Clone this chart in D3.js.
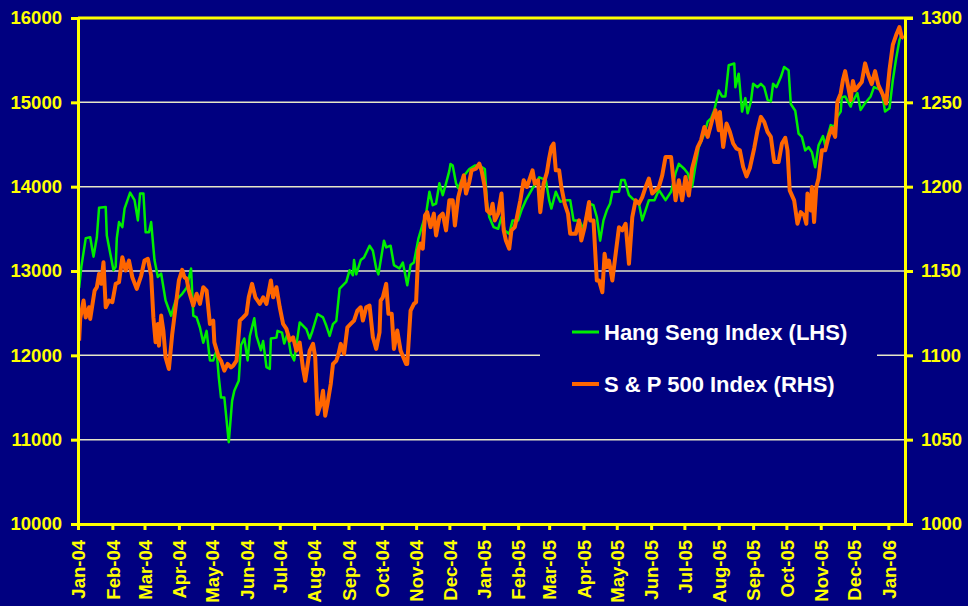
<!DOCTYPE html>
<html>
<head>
<meta charset="utf-8">
<script src="https://cdn.jsdelivr.net/npm/d3@7"></script>
<style>
  html, body { margin: 0; padding: 0; background: #000080; }
  svg { display: block; }
  text { font-family: "Liberation Sans", Arial, sans-serif; font-weight: bold; }
</style>
</head>
<body>
<svg id="chart" width="968" height="606"></svg>
<script>
// HANG SENG INDEX (left axis)
var hsDates = ["2004-01-02","2004-01-04","2004-01-08","2004-01-12","2004-01-15","2004-01-18","2004-01-20","2004-01-26","2004-01-27",
  "2004-02-02","2004-02-04","2004-02-05","2004-02-07","2004-02-10","2004-02-12","2004-02-17","2004-02-21","2004-02-24","2004-02-26","2004-02-29",
  "2004-03-02","2004-03-05","2004-03-07","2004-03-10","2004-03-13","2004-03-16","2004-03-20","2004-03-25","2004-03-29",
  "2004-04-04","2004-04-08","2004-04-12","2004-04-14","2004-04-17","2004-04-20","2004-04-23","2004-04-26","2004-04-29",
  "2004-05-02","2004-05-05","2004-05-07","2004-05-09","2004-05-12","2004-05-16","2004-05-19","2004-05-21","2004-05-25","2004-05-27","2004-05-30",
  "2004-06-02","2004-06-04","2004-06-08","2004-06-10","2004-06-14","2004-06-16","2004-06-19","2004-06-22","2004-06-23","2004-06-28","2004-06-29",
  "2004-07-03","2004-07-05","2004-07-08","2004-07-11","2004-07-14","2004-07-19","2004-07-25","2004-07-28","2004-07-30",
  "2004-08-04","2004-08-09","2004-08-12","2004-08-15","2004-08-18","2004-08-21","2004-08-24","2004-08-30",
  "2004-09-02","2004-09-05","2004-09-06","2004-09-08","2004-09-12","2004-09-15","2004-09-20","2004-09-23","2004-09-26","2004-09-28",
  "2004-10-03","2004-10-05","2004-10-09","2004-10-12","2004-10-17","2004-10-20","2004-10-22","2004-10-24","2004-10-27","2004-10-30",
  "2004-11-03","2004-11-07","2004-11-10","2004-11-13","2004-11-16","2004-11-19","2004-11-22","2004-11-25","2004-11-28",
  "2004-12-01","2004-12-02","2004-12-04","2004-12-07","2004-12-09","2004-12-13","2004-12-19","2004-12-24","2004-12-28",
  "2005-01-02","2005-01-04","2005-01-06","2005-01-10","2005-01-14","2005-01-17","2005-01-20","2005-01-24","2005-01-27",
  "2005-02-01","2005-02-04","2005-02-08","2005-02-14","2005-02-20","2005-02-26",
  "2005-03-01","2005-03-03","2005-03-07","2005-03-11","2005-03-16","2005-03-20","2005-03-23","2005-03-28",
  "2005-04-01","2005-04-06","2005-04-10","2005-04-13","2005-04-16","2005-04-19","2005-04-22","2005-04-25","2005-04-27",
  "2005-05-03","2005-05-05","2005-05-08","2005-05-12","2005-05-15","2005-05-21","2005-05-24","2005-05-30",
  "2005-06-04","2005-06-08","2005-06-14","2005-06-19","2005-06-23","2005-06-26",
  "2005-07-01","2005-07-04","2005-07-08","2005-07-11","2005-07-14","2005-07-19","2005-07-22","2005-07-25","2005-07-28",
  "2005-08-01","2005-08-04","2005-08-07","2005-08-10","2005-08-15","2005-08-16","2005-08-19","2005-08-22","2005-08-25","2005-08-27","2005-08-30",
  "2005-09-01","2005-09-05","2005-09-08","2005-09-11","2005-09-14","2005-09-17","2005-09-19","2005-09-22","2005-09-26","2005-09-29",
  "2005-10-03","2005-10-05","2005-10-09","2005-10-12","2005-10-15","2005-10-18","2005-10-21","2005-10-24","2005-10-27","2005-10-30",
  "2005-11-03","2005-11-05","2005-11-10","2005-11-13","2005-11-16","2005-11-19","2005-11-20","2005-11-23","2005-11-28","2005-11-29",
  "2005-12-04","2005-12-07","2005-12-11","2005-12-16","2005-12-19","2005-12-23","2005-12-26","2005-12-29",
  "2006-01-02","2006-01-05","2006-01-08","2006-01-11","2006-01-13"];
var hsValues = [12800,13050,13390,13400,13170,13400,13750,13760,13420,
  13010,13050,13390,13580,13520,13740,13930,13840,13600,13920,13920,
  13460,13460,13580,13130,12930,12970,12650,12470,12650,
  12730,12800,13030,12470,12450,12330,12150,12290,11940,
  11940,12060,11740,11500,11500,10970,11460,11580,11700,12120,12200,
  11940,12230,12440,12230,12060,12170,11860,11840,12200,12210,12290,
  12270,12140,12260,12020,11940,12390,12310,12200,12270,
  12490,12450,12350,12230,12370,12410,12790,12870,
  13010,12950,13130,12960,13130,13160,13300,13240,13030,12960,
  13360,13280,13300,13070,13030,13100,12970,12830,13070,13100,
  13380,13560,13680,13940,13780,13800,14040,13900,14040,
  14190,14270,14250,14040,13980,14110,14210,14250,14250,
  14210,13800,13640,13520,13500,13640,13480,13440,13600,
  13600,13720,13840,13980,14110,14080,
  13840,13740,13940,13820,13840,13840,13600,13600,
  13500,13800,13780,13640,13360,13600,13720,13800,13940,
  13940,14080,14080,13900,13860,13800,13600,13840,
  13840,13960,13840,13940,14160,14270,
  14210,14160,14000,14250,14470,14630,14770,14810,14910,
  15140,15070,15070,15440,15460,15180,15340,14890,15050,14870,15010,
  15220,15180,15220,15180,15030,15010,15220,15180,15300,15420,
  15380,14980,14900,14630,14590,14430,14470,14410,14230,14490,
  14600,14490,14730,14710,14830,14890,15060,15070,14950,14990,
  15110,14910,14990,15070,15180,15160,15140,14890,
  14930,15260,15520,15740,15800];

// S&P 500 INDEX (right axis)
var spDates = ["2004-01-02","2004-01-03","2004-01-06","2004-01-08","2004-01-11","2004-01-12","2004-01-16","2004-01-18","2004-01-20","2004-01-22","2004-01-24","2004-01-26","2004-01-29",
  "2004-02-01","2004-02-04","2004-02-07","2004-02-10","2004-02-13","2004-02-16","2004-02-19","2004-02-23","2004-02-27",
  "2004-03-01","2004-03-04","2004-03-07","2004-03-09","2004-03-11","2004-03-13","2004-03-14","2004-03-16","2004-03-18","2004-03-20","2004-03-23","2004-03-26","2004-03-29",
  "2004-04-01","2004-04-04","2004-04-06","2004-04-08","2004-04-10","2004-04-14","2004-04-17","2004-04-20","2004-04-23","2004-04-26","2004-04-29",
  "2004-05-02","2004-05-03","2004-05-07","2004-05-09","2004-05-12","2004-05-15","2004-05-18","2004-05-20","2004-05-23","2004-05-26","2004-05-29",
  "2004-06-01","2004-06-03","2004-06-06","2004-06-09","2004-06-13","2004-06-16","2004-06-19","2004-06-23","2004-06-25","2004-06-28",
  "2004-07-01","2004-07-04","2004-07-07","2004-07-10","2004-07-13","2004-07-16","2004-07-19","2004-07-22","2004-07-24","2004-07-28","2004-07-31",
  "2004-08-02","2004-08-04","2004-08-07","2004-08-09","2004-08-11","2004-08-13","2004-08-16","2004-08-18","2004-08-21","2004-08-23","2004-08-25","2004-08-28","2004-08-31",
  "2004-09-03","2004-09-06","2004-09-09","2004-09-12","2004-09-14","2004-09-17","2004-09-20","2004-09-23","2004-09-26","2004-09-29","2004-09-30",
  "2004-10-02","2004-10-05","2004-10-07","2004-10-10","2004-10-12","2004-10-15","2004-10-18","2004-10-23","2004-10-24","2004-10-27","2004-10-30",
  "2004-11-01","2004-11-03","2004-11-05","2004-11-07","2004-11-09","2004-11-11","2004-11-14","2004-11-17","2004-11-19","2004-11-22","2004-11-25","2004-11-28",
  "2004-12-01","2004-12-04","2004-12-06","2004-12-09","2004-12-14","2004-12-16","2004-12-19","2004-12-21","2004-12-25","2004-12-28","2004-12-30",
  "2005-01-02","2005-01-04","2005-01-07","2005-01-09","2005-01-11","2005-01-14","2005-01-17","2005-01-19","2005-01-21","2005-01-24","2005-01-26","2005-01-29","2005-01-31",
  "2005-02-03","2005-02-06","2005-02-09","2005-02-12","2005-02-14","2005-02-16","2005-02-19","2005-02-21","2005-02-24","2005-02-27",
  "2005-03-01","2005-03-03","2005-03-05","2005-03-07","2005-03-10","2005-03-12","2005-03-15","2005-03-18","2005-03-20","2005-03-25","2005-03-28","2005-03-30",
  "2005-04-02","2005-04-06","2005-04-07","2005-04-10","2005-04-13","2005-04-15","2005-04-18","2005-04-20","2005-04-22","2005-04-24","2005-04-27","2005-04-30",
  "2005-05-03","2005-05-06","2005-05-09","2005-05-12","2005-05-15","2005-05-18","2005-05-21","2005-05-24","2005-05-27","2005-05-30",
  "2005-06-02","2005-06-05","2005-06-08","2005-06-11","2005-06-14","2005-06-19","2005-06-23","2005-06-26","2005-06-29",
  "2005-07-02","2005-07-05","2005-07-08","2005-07-13","2005-07-16","2005-07-19","2005-07-22","2005-07-26","2005-07-29",
  "2005-08-01","2005-08-02","2005-08-05","2005-08-08","2005-08-11","2005-08-14","2005-08-17","2005-08-20","2005-08-23","2005-08-26","2005-08-29",
  "2005-09-02","2005-09-05","2005-09-08","2005-09-11","2005-09-14","2005-09-17","2005-09-20","2005-09-24","2005-09-27","2005-09-30",
  "2005-10-02","2005-10-04","2005-10-08","2005-10-11","2005-10-14","2005-10-17","2005-10-19","2005-10-20","2005-10-23","2005-10-24","2005-10-26","2005-10-28","2005-10-30",
  "2005-11-02","2005-11-05","2005-11-08","2005-11-11","2005-11-14","2005-11-16","2005-11-19","2005-11-21","2005-11-23","2005-11-26","2005-11-28","2005-11-30",
  "2005-12-02","2005-12-05","2005-12-08","2005-12-11","2005-12-14","2005-12-17","2005-12-20","2005-12-23","2005-12-28","2005-12-30",
  "2006-01-02","2006-01-05","2006-01-08","2006-01-11","2006-01-13","2006-01-15"];
var spValues = [1108.7,1121.8,1132.5,1122.5,1128.5,1121.6,1138.4,1140.4,1148.3,1142.4,1155.2,1128.5,1132.5,
  1131.5,1142.4,1143.3,1158.2,1150.3,1156.2,1146.3,1139.4,1147.3,
  1156.2,1157.2,1147.3,1122.5,1107.7,1118.6,1105.7,1123.6,1114.7,1098.8,1091.9,1112.7,1128.5,
  1144.4,1150.7,1146.3,1145.4,1138.4,1129.5,1136.5,1130.5,1140.4,1138.4,1118.6,
  1120.6,1107.7,1098.8,1096.8,1090.9,1094.9,1092.9,1093.9,1096.8,1120.6,1122.5,
  1124.6,1134.4,1142.4,1134.4,1130.5,1134.4,1130.5,1144.4,1134.4,1140.4,
  1128.5,1118.6,1115.7,1108.7,1110.7,1102.8,1107.5,1092.1,1084.9,1102.8,1106.8,
  1098.8,1065.2,1071.1,1079.0,1064.2,1071.1,1083.0,1094.9,1096.8,1100.8,1106.8,1100.8,1116.6,
  1118.6,1120.6,1126.5,1128.5,1120.6,1128.5,1129.5,1110.7,1103.8,1113.6,1132.5,
  1134.4,1142.4,1124.6,1124.6,1103.8,1114.7,1102.8,1094.9,1094.9,1126.5,1130.5,
  1131.5,1162.2,1166.2,1163.2,1183.0,1184.9,1176.0,1184.0,1171.1,1182.0,1184.0,1174.1,
  1191.9,1191.9,1177.0,1193.8,1206.7,1195.9,1202.8,1209.7,1210.7,1213.7,1209.7,
  1199.8,1185.9,1184.0,1189.9,1180.0,1184.0,1195.9,1174.1,1168.1,1163.2,1174.1,1176.0,1182.0,
  1191.9,1203.8,1199.8,1205.7,1209.7,1201.8,1203.8,1184.9,1201.8,1208.5,
  1216.8,1223.5,1225.6,1209.7,1209.7,1199.8,1189.9,1184.0,1172.1,1172.1,1180.0,1168.1,
  1176.0,1190.9,1180.0,1180.0,1144.4,1144.4,1137.4,1160.2,1152.3,1156.2,1144.4,1160.2,
  1176.0,1174.1,1178.0,1154.3,1182.0,1191.9,1189.9,1193.8,1199.8,1204.8,
  1195.9,1197.8,1199.8,1206.7,1217.6,1217.6,1191.9,1203.8,1191.9,
  1205.7,1194.8,1210.7,1223.5,1227.5,1235.4,1229.5,1239.4,1245.3,
  1233.5,1244.3,1223.5,1237.4,1232.5,1225.6,1222.6,1221.6,1211.7,1206.1,1210.9,
  1222.8,1233.5,1241.4,1238.4,1232.5,1229.5,1214.6,1214.6,1225.6,1229.0,
  1221.6,1197.8,1191.9,1178.0,1184.9,1183.0,1178.0,1195.9,1185.9,1199.8,1179.0,1199.8,1204.9,
  1221.6,1221.6,1229.5,1234.7,1229.5,1250.4,1255.3,1263.2,1268.5,1258.4,1251.3,1262.6,
  1257.2,1259.6,1262.0,1273.1,1266.1,1260.8,1268.5,1260.2,1253.1,1249.3,
  1269.1,1284.0,1289.9,1294.6,1288.9,1288.1];

// AXIS TICKS
var leftTicks = [10000, 11000, 12000, 13000, 14000, 15000, 16000];
var rightTicks = [1000, 1050, 1100, 1150, 1200, 1250, 1300];
var legendLabels = ["Hang Seng Index (LHS)", "S & P 500 Index (RHS)"];

// SVG dimensions
var svg = d3.select("#chart");
var plot_left = 78, plot_right = 905, plot_top = 18, plot_bottom = 524;
var yellow = "#ffff00";

var parseDate = d3.timeParse("%Y-%m-%d");
var hs = hsDates.map((d, i) => ({date: parseDate(d), value: hsValues[i]}));
var sp = spDates.map((d, i) => ({date: parseDate(d), value: spValues[i]}));

var xScale = d3.scaleTime()
  .domain([parseDate("2004-01-01"), parseDate("2006-01-16")])
  .range([plot_left, plot_right]);
var yLeft = d3.scaleLinear().domain([10000, 16000]).range([plot_bottom, plot_top]);
var yRight = d3.scaleLinear().domain([1000, 1300]).range([plot_bottom, plot_top]);

// background
svg.append("rect").attr("width", 968).attr("height", 606).attr("fill", "#000080");

// gridlines
svg.append("g").selectAll("line")
  .data(leftTicks.slice(1, -1))
  .enter().append("line")
  .attr("x1", plot_left).attr("x2", plot_right)
  .attr("y1", d => yLeft(d)).attr("y2", d => yLeft(d))
  .attr("stroke", "#e6e6c8").attr("stroke-width", 1.5);

// top border
svg.append("line")
  .attr("x1", plot_left).attr("x2", plot_right + 8)
  .attr("y1", plot_top).attr("y2", plot_top)
  .attr("stroke", yellow).attr("stroke-width", 3);

// lines
var hsLine = d3.line().x(d => xScale(d.date)).y(d => yLeft(d.value));
var spLine = d3.line().x(d => xScale(d.date)).y(d => yRight(d.value));

svg.append("path").datum(hs)
  .attr("d", hsLine).attr("fill", "none")
  .attr("stroke", "#00ee00").attr("stroke-width", 2.5)
  .attr("stroke-linejoin", "round");

svg.append("path").datum(sp)
  .attr("d", spLine).attr("fill", "none")
  .attr("stroke", "#ff6600").attr("stroke-width", 4)
  .attr("stroke-linejoin", "round");

// axes
function styleAxis(g) {
  g.selectAll("path.domain").attr("stroke", yellow).attr("stroke-width", 3);
  g.selectAll(".tick line").attr("stroke", yellow).attr("stroke-width", 3);
  g.selectAll(".tick text").attr("fill", yellow)
    .style("font-size", "18.5px").style("font-weight", "bold")
    .style("font-family", "'Liberation Sans', Arial, sans-serif");
}

svg.append("g")
  .attr("transform", "translate(" + plot_left + ",0)")
  .call(d3.axisLeft(yLeft).tickValues(leftTicks).tickFormat(d3.format("d"))
    .tickSize(7).tickSizeOuter(0).tickPadding(9))
  .call(styleAxis);

svg.append("g")
  .attr("transform", "translate(" + plot_right + ",0)")
  .call(d3.axisRight(yRight).tickValues(rightTicks).tickFormat(d3.format("d"))
    .tickSize(8).tickSizeOuter(0).tickPadding(8))
  .call(styleAxis);

var xAxis = svg.append("g")
  .attr("transform", "translate(0," + plot_bottom + ")")
  .call(d3.axisBottom(xScale)
    .ticks(d3.timeMonth.every(1))
    .tickFormat(d3.timeFormat("%b-%y"))
    .tickSize(6).tickSizeOuter(0))
  .call(styleAxis);

xAxis.selectAll(".tick text")
  .attr("transform", "rotate(-90)")
  .attr("text-anchor", "end")
  .attr("x", -16).attr("y", 0).attr("dy", "0.36em");

// legend
var legend = svg.append("g").attr("transform", "translate(540,300)");
legend.append("rect").attr("width", 337).attr("height", 110).attr("fill", "#000080");

var legendColors = ["#00ee00", "#ff6600"];
var legendWidths = [3, 4];
legendLabels.forEach((label, i) => {
  let yy = 32 + i * 52;
  legend.append("line")
    .attr("x1", 32).attr("x2", 59)
    .attr("y1", yy).attr("y2", yy)
    .attr("stroke", legendColors[i]).attr("stroke-width", legendWidths[i]);
  legend.append("text")
    .attr("x", 64).attr("y", yy + 8)
    .attr("fill", "#ffffff")
    .style("font-size", "22px")
    .text(label);
});
</script>
</body>
</html>
